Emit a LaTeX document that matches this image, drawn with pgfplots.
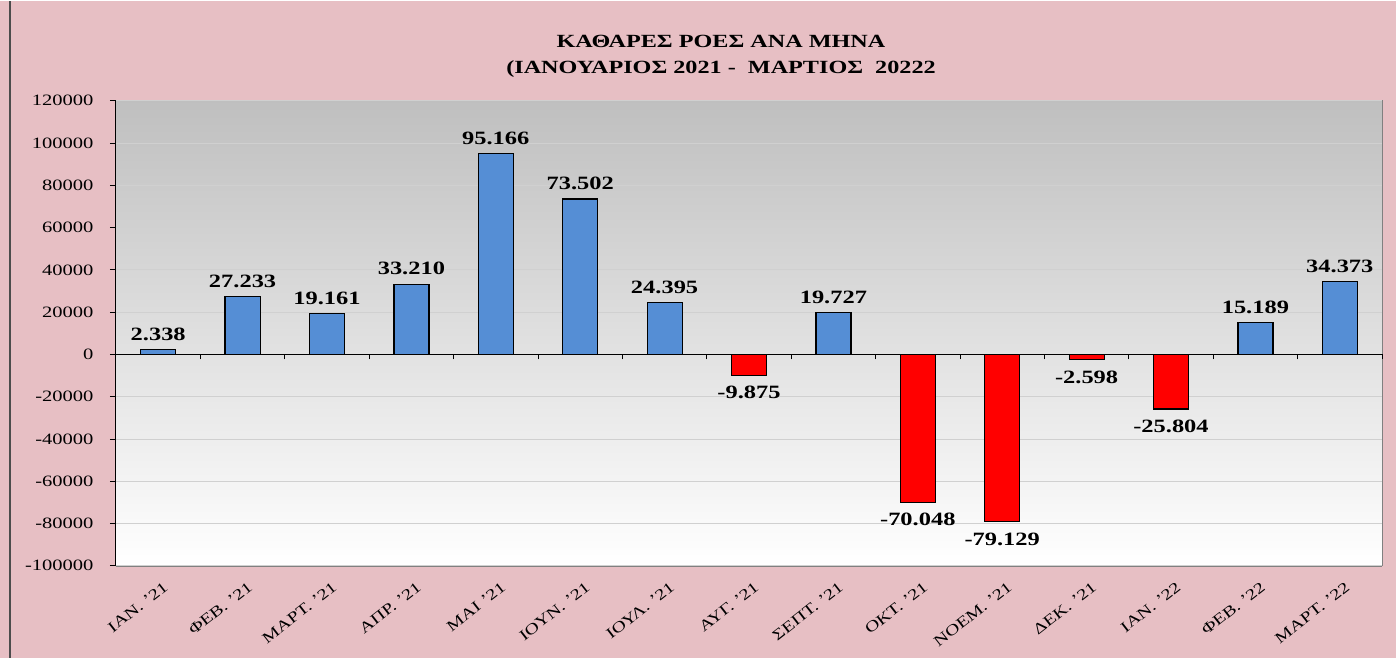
\documentclass[border=0pt]{standalone}
\usepackage{fontspec}
\setmainfont{Liberation Serif}[FakeStretch=1.3]
\usepackage{pgfplots}
\pgfplotsset{compat=1.18}
\definecolor{bgpink}{RGB}{231,191,196}
\definecolor{barblue}{RGB}{85,142,213}
\definecolor{gridgray}{RGB}{208,208,208}
\begin{document}
\begin{tikzpicture}
% chart area, 1pt = 1px of the reference
\fill[bgpink] (-116pt,-92pt) rectangle (1280pt,565pt);
\draw[black!70, line width=1.5pt] (-106pt,-92pt) -- (-106pt,565pt);
\node[anchor=base, font=\fontsize{18.6}{20}\selectfont\bfseries] at (605pt,518pt)
  {ΚΑΘΑΡΕΣ ΡΟΕΣ ΑΝΑ ΜΗΝΑ};
\node[anchor=base, font=\fontsize{18.6}{20}\selectfont\bfseries] at (605pt,492pt)
  {(ΙΑΝΟΥΑΡΙΟΣ 2021 -\ \ ΜΑΡΤΙΟΣ\ \ 20222};

\begin{axis}[width=1266pt,height=465pt,scale only axis,
  xmin=-0.5,xmax=14.5,ymin=-100000,ymax=120000,
  axis x line*=bottom, axis y line*=left,
  x axis line style={draw=gray},
  y axis line style={draw=black,line width=1pt},
  axis background/.style={top color=black!25,bottom color=white,draw=gray,line width=1pt},
  scaled y ticks=false,
  ytick={-100000,-80000,-60000,-40000,-20000,0,20000,40000,60000,80000,100000,120000},
  yticklabels={-100000,-80000,-60000,-40000,-20000,0,20000,40000,60000,80000,100000,120000},
  ymajorgrids, grid style={gridgray,line width=0.8pt},
  tick align=outside, ytick style={black,line width=0.8pt}, major tick length=6pt,
  xtick={0,...,14}, x tick style={draw=none},
  xticklabels={ΙΑΝ. '21,ΦΕΒ. '21,ΜΑΡΤ. '21,ΑΠΡ. '21,ΜΑΙ '21,ΙΟΥΝ. '21,ΙΟΥΛ. '21,ΑΥΓ. '21,ΣΕΠΤ. '21,ΟΚΤ. '21,ΝΟΕΜ. '21,ΔΕΚ. '21,ΙΑΝ. '22,ΦΕΒ. '22,ΜΑΡΤ. '22},
  xticklabel style={rotate=38,anchor=north east,inner sep=0pt,
    font=\fontsize{15.2}{16}\selectfont,xshift=-2pt,yshift=-10pt},
  yticklabel style={font=\fontsize{15.8}{16}\selectfont,xshift=-13pt},
  ybar, bar width=35pt,
  point meta=explicit symbolic, nodes near coords={\pgfplotspointmeta},
  every node near coord/.append style={font=\fontsize{18.8}{20}\selectfont\bfseries,black},
]
\addplot[fill=barblue,draw=black,line width=1.2pt,bar shift=0pt,
  every node near coord/.append style={anchor=south,yshift=5pt}] coordinates {
  (0,2338) [2.338] (1,27233) [27.233] (2,19161) [19.161] (3,33210) [33.210]
  (4,95166) [95.166] (5,73502) [73.502] (6,24395) [24.395] (8,19727) [19.727]
  (13,15189) [15.189] (14,34373) [34.373]};
\addplot[fill=red,draw=black,line width=1.2pt,bar shift=0pt,
  every node near coord/.append style={anchor=north,yshift=-7pt}] coordinates {
  (7,-9875) [-9.875] (9,-70048) [-70.048] (10,-79129) [-79.129]
  (11,-2598) [-2.598] (12,-25804) [-25.804]};
\end{axis}

% zero line with category boundary ticks
\begin{axis}[width=1266pt,height=465pt,scale only axis,
  xmin=-0.5,xmax=14.5,ymin=-100000,ymax=120000,
  axis x line*=middle, axis y line=none,
  x axis line style={black,line width=1pt},
  xtick={-0.5,0.5,...,14.5}, xticklabels={},
  xtick align=outside, major tick length=5pt, x tick style={black,line width=1pt},
  ytick=\empty]
\end{axis}
\end{tikzpicture}
\end{document}
